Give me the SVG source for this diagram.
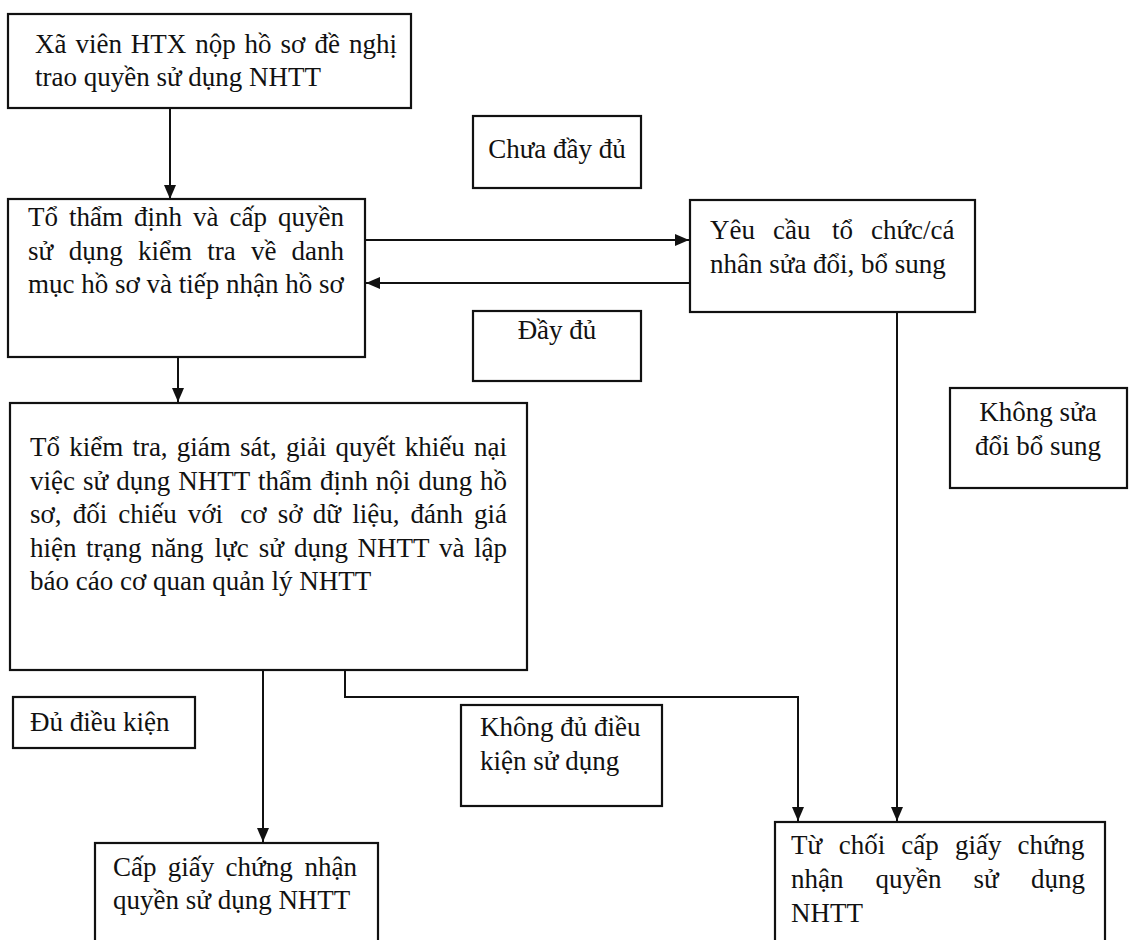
<svg xmlns="http://www.w3.org/2000/svg" width="1139" height="940" viewBox="0 0 1139 940">
<defs>
<style>
.box{fill:none;stroke:#111;stroke-width:2.2}
.t{font-family:"Liberation Serif","Times New Roman",serif;font-size:27px;fill:#111}
.m{text-anchor:middle}
.c{fill:none;stroke:#111;stroke-width:2}
</style>
<marker id="ah" viewBox="0 0 14 12" refX="14" refY="6" markerWidth="14" markerHeight="12" markerUnits="userSpaceOnUse" orient="auto">
<path d="M0,0 L14,6 L0,12 Z" fill="#111"/>
</marker>
</defs>
<rect width="1139" height="940" fill="#ffffff"/>

<g id="connectors">
<line class="c" x1="170" y1="108" x2="170" y2="199" marker-end="url(#ah)"/>
<line class="c" x1="365" y1="240" x2="689" y2="240" marker-end="url(#ah)"/>
<line class="c" x1="690" y1="283" x2="366" y2="283" marker-end="url(#ah)"/>
<line class="c" x1="178" y1="357" x2="178" y2="402" marker-end="url(#ah)"/>
<line class="c" x1="897" y1="312" x2="897" y2="821" marker-end="url(#ah)"/>
<line class="c" x1="263" y1="670" x2="263" y2="842" marker-end="url(#ah)"/>
<polyline class="c" points="345,670 345,697 798,697 798,821" marker-end="url(#ah)"/>
</g>

<g id="n1">
<rect class="box" x="8" y="14" width="403" height="94"/>
<text class="t" y="53"><tspan x="35">Xã</tspan><tspan x="75.4">viên</tspan><tspan x="130.8">HTX</tspan><tspan x="195.2">nộp</tspan><tspan x="244.6">hồ</tspan><tspan x="280.5">sơ</tspan><tspan x="314.5">đề</tspan><tspan x="348.9">nghị</tspan></text>
<text class="t" x="35" y="86">trao quyền sử dụng NHTT</text>
</g>

<g id="lbl-chua-day-du">
<rect class="box" x="473" y="116" width="168" height="72"/>
<text class="t m" x="557" y="158">Chưa đầy đủ</text>
</g>

<g id="n2">
<rect class="box" x="8" y="199" width="357" height="158"/>
<text class="t" y="226"><tspan x="28">Tổ</tspan><tspan x="69">thẩm</tspan><tspan x="134">định</tspan><tspan x="193">và</tspan><tspan x="229.5">cấp</tspan><tspan x="278">quyền</tspan></text>
<text class="t" y="260"><tspan x="28">sử</tspan><tspan x="68.8">dụng</tspan><tspan x="138">kiểm</tspan><tspan x="207.2">tra</tspan><tspan x="250.9">về</tspan><tspan x="291.6">danh</tspan></text>
<text class="t" x="28" y="293">mục hồ sơ và tiếp nhận hồ sơ</text>
</g>

<g id="n3">
<rect class="box" x="690" y="200" width="285" height="112"/>
<text class="t" y="239"><tspan x="710">Yêu</tspan><tspan x="773">cầu</tspan><tspan x="832">tổ</tspan><tspan x="871">chức/cá</tspan></text>
<text class="t" x="710" y="273">nhân sửa đổi, bổ sung</text>
</g>

<g id="lbl-day-du">
<rect class="box" x="473" y="311" width="168" height="70"/>
<text class="t m" x="557" y="339">Đầy đủ</text>
</g>

<g id="lbl-khong-sua">
<rect class="box" x="950" y="388" width="177" height="100"/>
<text class="t m" x="1038" y="421">Không sửa</text>
<text class="t m" x="1038" y="455">đổi bổ sung</text>
</g>

<g id="n4">
<rect class="box" x="10" y="403" width="517" height="267"/>
<text class="t" y="456"><tspan x="30">Tổ</tspan><tspan x="69.2">kiểm</tspan><tspan x="132.4">tra,</tspan><tspan x="176.8">giám</tspan><tspan x="240">sát,</tspan><tspan x="285.9">giải</tspan><tspan x="335.6">quyết</tspan><tspan x="404.8">khiếu</tspan><tspan x="474">nại</tspan></text>
<text class="t" y="489.5"><tspan x="30">việc</tspan><tspan x="82.9">sử</tspan><tspan x="116.3">dụng</tspan><tspan x="178.2">NHTT</tspan><tspan x="258.1">thẩm</tspan><tspan x="319.9">định</tspan><tspan x="375.8">nội</tspan><tspan x="418.2">dung</tspan><tspan x="480">hồ</tspan></text>
<text class="t" y="523"><tspan x="30">sơ,</tspan><tspan x="72.8">đối</tspan><tspan x="118.2">chiếu</tspan><tspan x="187.7">với</tspan><tspan x="240.2">cơ</tspan><tspan x="277.8">sở</tspan><tspan x="312.7">dữ</tspan><tspan x="352.3">liệu,</tspan><tspan x="410.6">đánh</tspan><tspan x="474">giá</tspan></text>
<text class="t" y="556.5"><tspan x="30">hiện</tspan><tspan x="86">trạng</tspan><tspan x="151.1">năng</tspan><tspan x="214.6">lực</tspan><tspan x="258.8">sử</tspan><tspan x="293.9">dụng</tspan><tspan x="357.4">NHTT</tspan><tspan x="439">và</tspan><tspan x="474">lập</tspan></text>
<text class="t" x="30" y="590">báo cáo cơ quan quản lý NHTT</text>
</g>

<g id="lbl-du-dieu-kien">
<rect class="box" x="13" y="697" width="182" height="51"/>
<text class="t" x="30" y="731">Đủ điều kiện</text>
</g>

<g id="lbl-khong-du">
<rect class="box" x="461" y="705" width="201" height="101"/>
<text class="t" x="480" y="736">Không đủ điều</text>
<text class="t" x="480" y="770">kiện sử dụng</text>
</g>

<g id="n5">
<rect class="box" x="95" y="843" width="283" height="110"/>
<text class="t" y="876"><tspan x="113">Cấp</tspan><tspan x="167.8">giấy</tspan><tspan x="225.6">chứng</tspan><tspan x="304.5">nhận</tspan></text>
<text class="t" x="113" y="909">quyền sử dụng NHTT</text>
</g>

<g id="n6">
<rect class="box" x="775" y="822" width="330" height="130"/>
<text class="t" y="854"><tspan x="791">Từ</tspan><tspan x="838.7">chối</tspan><tspan x="901.3">cấp</tspan><tspan x="954.9">giấy</tspan><tspan x="1017.5">chứng</tspan></text>
<text class="t" y="888"><tspan x="791">nhận</tspan><tspan x="875.5">quyền</tspan><tspan x="973.5">sử</tspan><tspan x="1031">dụng</tspan></text>
<text class="t" x="791" y="922">NHTT</text>
</g>
</svg>
